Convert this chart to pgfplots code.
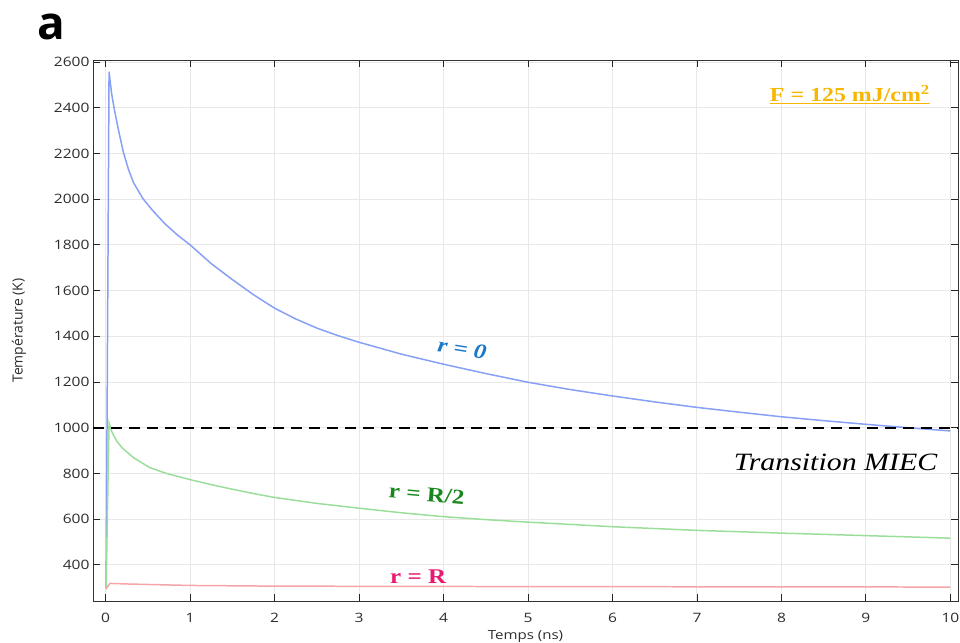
\documentclass[border=0pt]{standalone}
\usepackage{pgfplots}
\pgfplotsset{compat=1.18}
\usepackage{fontspec}
\setmainfont{Open Sans}
\newfontfamily\tickfont[FakeStretch=1.2]{Open Sans}
\newfontfamily\annot[FakeStretch=1.2]{Liberation Serif}
\definecolor{lblue}{RGB}{135,160,245}
\definecolor{lgreen}{RGB}{155,222,155}
\definecolor{lred}{RGB}{245,165,170}
\definecolor{tblue}{RGB}{25,120,200}
\definecolor{tgreen}{RGB}{25,135,30}
\definecolor{tpink}{RGB}{232,25,110}
\definecolor{tgold}{RGB}{247,182,0}
\definecolor{tickgray}{RGB}{45,45,45}
\begin{document}
\begin{tikzpicture}[x=1bp,y=1bp]
\useasboundingbox (0,0) rectangle (960,643);
\node[anchor=base west,inner sep=0pt,font=\fontsize{46}{50}\selectfont\bfseries] at (37,603) {a};
\begin{axis}[
  at={(93bp,42bp)}, anchor=south west,
  scale only axis, width=865bp, height=541bp,
  xmin=-0.15, xmax=10.09, ymin=242, ymax=2609,
  xtick={0,1,...,10}, ytick={400,600,...,2600},
  tick align=inside, major tick length=7bp,
  tick style={black!85, line width=0.9pt},
  axis line style={black!80, line width=0.9pt},
  grid=major, grid style={black!9, line width=1pt},
  /pgf/number format/assume math mode=true,
  /pgf/number format/set thousands separator={},
  ticklabel style={font=\tickfont\fontsize{13}{15}\selectfont, text=tickgray},
  xticklabel style={yshift=-9bp},
  xlabel={Temps (ns)}, ylabel={Température (K)},
  xlabel style={font=\tickfont\fontsize{12.6}{14}\selectfont, text=tickgray,
    at={(axis description cs:0.5,0)}, anchor=center, yshift=-36bp},
  ylabel style={font=\fontsize{14}{16}\selectfont, text=tickgray,
    at={(axis description cs:0,0.5)}, anchor=center, rotate=0, yshift=74bp},
  clip=true,
]
\addplot[lblue, line width=1.5pt] coordinates {
 (0.005,300) (0.04,2558) (0.07,2463) (0.1,2398) (0.15,2305) (0.21,2205)
 (0.27,2130) (0.33,2072) (0.44,2003) (0.55,1953) (0.7,1893) (0.85,1843)
 (1,1800) (1.25,1718) (1.5,1648) (1.75,1582) (2,1523) (2.25,1476) (2.5,1436)
 (2.75,1403) (3,1374) (3.5,1322) (4,1278) (4.5,1237) (5,1199) (5.5,1167)
 (6,1139) (6.5,1113) (7,1089) (7.5,1068) (8,1048) (8.5,1031) (9,1015)
 (9.5,1000) (10,986)};
\addplot[lgreen, line width=1.5pt] coordinates {
 (0.005,300) (0.04,1020) (0.07,985) (0.1,962) (0.13,942) (0.2,910)
 (0.33,869) (0.52,826) (0.72,800) (1,773) (1.25,751) (1.5,731) (1.75,712)
 (2,695) (2.5,669) (3,648) (3.5,628) (4,611) (4.5,598) (5,587) (6,567)
 (7,551) (8,539) (9,528) (10,517)};
\addplot[lred, line width=1.5pt] coordinates {
 (0,293) (0.05,319) (0.3,316) (1,310) (2,307) (5,305) (10,303)};
\addplot[black, line width=2pt, dash pattern=on 11bp off 7bp] coordinates {(-0.15,1000) (10.09,1000)};
\node[font=\annot\fontsize{21}{24}\selectfont\bfseries\itshape, text=tblue, rotate=-9] at (axis cs:4.22,1345) {r = 0};
\node[font=\annot\fontsize{21}{24}\selectfont\bfseries, text=tgreen, rotate=-5] at (axis cs:3.8,708) {r = R/2};
\node[font=\annot\fontsize{21}{24}\selectfont\bfseries, text=tpink] at (axis cs:3.7,350) {r = R};
\node[font=\annot\fontsize{25}{28}\selectfont\itshape, text=black] at (axis cs:8.64,847) {Transition MIEC};
\node[font=\annot\fontsize{20}{24}\selectfont\bfseries, text=tgold] at (axis cs:8.81,2458) {\underline{F = 125 mJ/cm\textsuperscript{2}}};
\end{axis}
\end{tikzpicture}
\end{document}
